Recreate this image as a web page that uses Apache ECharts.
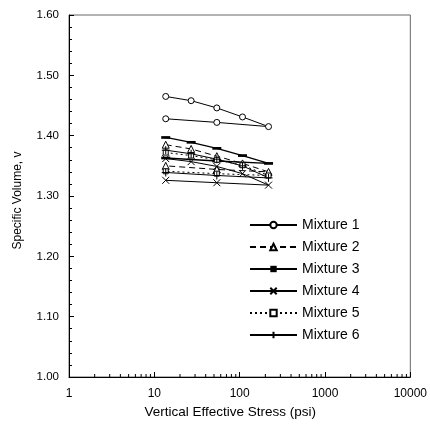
<!DOCTYPE html>
<html><head><meta charset="utf-8">
<script src="https://cdn.jsdelivr.net/npm/echarts@6/dist/echarts.min.js"></script>
<style>html,body{margin:0;padding:0;background:#fff}#c{width:430px;height:429px}</style>
</head><body><div id="c"></div>
<script>
// stress path: loading then unloading (psi)
const stress = [13.6, 27, 54, 108, 218, 54, 13.6];
const mix1 = [1.465, 1.458, 1.446, 1.431, 1.415, 1.422, 1.428];
const mix2 = [1.385, 1.378, 1.366, 1.354, 1.340, 1.344, 1.350];
const mix3 = [1.397, 1.389, 1.379, 1.367, 1.354, 1.358, 1.363];
const mix4 = [1.362, 1.357, 1.349, 1.337, 1.318, 1.322, 1.326];
const mix5 = [1.372, 1.367, 1.360, 1.351, 1.334, 1.337, 1.341];
const mix6 = [1.376, 1.370, 1.361, 1.350, 1.330, 1.334, 1.339];
const names = ['Mixture 1','Mixture 2','Mixture 3','Mixture 4','Mixture 5','Mixture 6'];
const xTickLabels = [1, 10, 100, 1000, 10000];
const minorX = [2,3,4,5,6,7,8,9,20,30,40,50,60,70,80,90,200,300,400,500,600,700,800,900,2000,3000,4000,5000,6000,7000,8000,9000];

const pair = arr => arr.map((v,i)=>[stress[i], v]);
const crossPath = 'path://M0 0L10 10M10 0L0 10';
const plusPath = 'path://M5 0L5 10M0 5L10 5';
const barPath = 'path://M0 0H10V3H0Z';
const base = (name, data, extra) => Object.assign({
  name, type:'line', data: pair(data), symbolSize: 6,
  lineStyle:{color:'#000', width:1},
  itemStyle:{color:'#fff', borderColor:'#000', borderWidth:1},
  emphasis:{disabled:true}, animation:false
}, extra);

const series = [
  base(names[0], mix1, {symbol:'circle', symbolSize:6}),
  base(names[1], mix2, {symbol:'triangle', symbolSize:7, lineStyle:{color:'#000', width:1, type:[6,4]}}),
  base(names[2], mix3, {symbol:barPath, symbolKeepAspect:true, symbolSize:9, itemStyle:{color:'#000', borderColor:'#000', borderWidth:0}, lineStyle:{color:'#000', width:1.3}}),
  base(names[3], mix4, {symbol:crossPath, symbolSize:7, itemStyle:{color:'none', borderColor:'#000', borderWidth:1}}),
  base(names[4], mix5, {symbol:'rect', symbolSize:5, lineStyle:{color:'#000', width:1, type:[2,3]}}),
  base(names[5], mix6, {symbol:plusPath, symbolSize:8, itemStyle:{color:'none', borderColor:'#000', borderWidth:1}}),
  {
    type:'custom', silent:true, animation:false, legendHoverLink:false,
    data: minorX.map(x=>[x]),
    renderItem:(params, api)=>{
      const p = api.coord([api.value(0), 1.0]);
      return {type:'line', shape:{x1:p[0], y1:p[1], x2:p[0], y2:p[1]-3}, style:{stroke:'#000', lineWidth:1}};
    },
    encode:{x:0}
  }
];

const chart = echarts.init(document.getElementById('c'));
chart.setOption({
  backgroundColor:'#fff',
  textStyle:{fontFamily:'Liberation Sans, Arial, sans-serif', color:'#000'},
  grid:{left:69, right:19, top:15, bottom:52, show:true, borderColor:'#666', borderWidth:1},
  legend:{
    data:names, orient:'vertical', left:249, top:218, itemWidth:47, itemHeight:8, itemGap:8,
    padding:0, textStyle:{fontSize:14, color:'#000', fontFamily:'Liberation Sans, Arial, sans-serif'},
    inactiveColor:'#000'
  },
  xAxis:{
    type:'log', logBase:10, min:1, max:10000,
    name:'Vertical Effective Stress (psi)', nameLocation:'middle', nameGap:27,
    nameTextStyle:{fontSize:13.5, color:'#000', padding:[0,19,0,0]},
    axisLine:{lineStyle:{color:'#000', width:1}},
    axisTick:{inside:true, length:5, lineStyle:{color:'#000'}},
    axisLabel:{fontSize:12, color:'#000', margin:11, formatter:v=>xTickLabels.includes(Math.round(v))?String(Math.round(v)):''},
    splitLine:{show:false}
  },
  yAxis:{
    type:'value', min:1.0, max:1.6, interval:0.1,
    name:'Specific Volume, v', nameLocation:'middle', nameGap:45,
    nameTextStyle:{fontSize:12, color:'#000', padding:[0,9,0,0]},
    axisLine:{show:true, lineStyle:{color:'#000', width:1}},
    axisTick:{inside:true, length:5, lineStyle:{color:'#000'}},
    minorTick:{show:true, splitNumber:5, length:3, lineStyle:{color:'#000'}},
    axisLabel:{fontSize:11.5, color:'#000', margin:10, formatter:v=>v.toFixed(2)},
    splitLine:{show:false}
  },
  series
});
</script></body></html>
